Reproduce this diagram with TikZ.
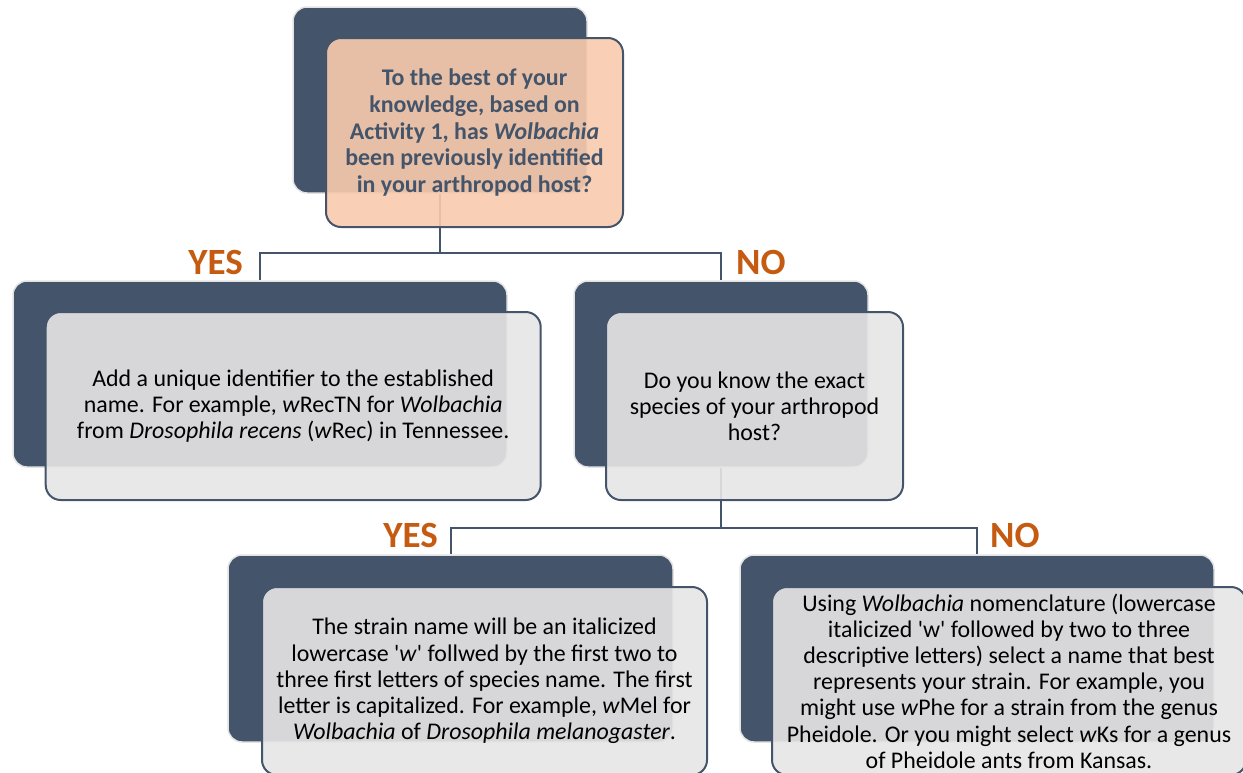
\documentclass[tikz,border=0pt]{standalone}
\usepackage{fontspec}
\setmainfont{Carlito}
\definecolor{slate}{HTML}{44546A}
\definecolor{haloc}{HTML}{E3E3E3}
\definecolor{peach}{HTML}{F8CBAD}
\definecolor{lightg}{HTML}{E7E6E6}
\definecolor{orangec}{HTML}{C55A11}
\pgfdeclarelayer{bg}
\pgfsetlayers{bg,main}
\tikzset{
  backbox/.style={rectangle, rounded corners=14pt, fill=slate, draw=haloc, line width=1.5pt, inner sep=0pt},
  frontbox/.style={rectangle, rounded corners=15pt, draw=slate, line width=2pt, inner sep=0pt, fill opacity=0.9},
  bodytext/.style={align=center, inner sep=0pt, text=black, font=\fontsize{23.9}{26.2}\selectfont},
  qtext/.style={align=center, inner sep=0pt, text=slate, font=\fontsize{23.9}{26.7}\selectfont\bfseries},
  lab/.style={inner sep=0pt, text=orangec, font=\fontsize{37}{40}\selectfont\bfseries},
  conn/.style={draw=slate, line width=2pt}
}
\newcommand{\sq}{\textquotesingle}
\begin{document}
\begin{tikzpicture}[x=1pt,y=-1pt]
\useasboundingbox (0,0) rectangle (1243,772);
\clip (0,0) rectangle (1243,772);
% back boxes
\node[backbox, minimum width=294pt, minimum height=186pt] (topB) at (440,100) {};
\node[backbox, minimum width=494pt, minimum height=186pt] (lmB) at (260,374) {};
\node[backbox, minimum width=294pt, minimum height=186pt] (rmB) at (721,374) {};
\node[backbox, minimum width=445pt, minimum height=187pt] (blB) at (450.5,648.5) {};
\node[backbox, minimum width=474pt, minimum height=187pt] (brB) at (977,648.5) {};
% front boxes
\node[frontbox, fill=peach, minimum width=297pt, minimum height=189pt] (topF) at (474.5,132.5) {};
\node[frontbox, fill=lightg, minimum width=495pt, minimum height=188pt] (lmF) at (293.2,406) {};
\node[frontbox, fill=lightg, minimum width=297pt, minimum height=188pt] (rmF) at (754.5,406) {};
\node[frontbox, fill=lightg, minimum width=445pt, minimum height=188pt] (blF) at (484.5,681) {};
\node[frontbox, fill=lightg, minimum width=474pt, minimum height=188pt] (brF) at (1009,681) {};
% texts
\node[qtext] (topT) at (topF.center) {To the best of your\\knowledge, based on\\Activity 1, has \textit{Wolbachia}\\been previously identified\\in your arthropod host?};
\node[bodytext] (lmT) at (lmF.center) {Add a unique identifier to the established\\name. For example, \textit{w}RecTN for \textit{Wolbachia}\\from \textit{Drosophila recens} (\textit{w}Rec) in Tennessee.};
\node[bodytext] (rmT) at (rmF.center) {Do you know the exact\\species of your arthropod\\host?};
\node[bodytext] (blT) at (blF.center) {The strain name will be an italicized\\lowercase \sq\textit{w}\sq{} follwed by the first two to\\three first letters of species name. The first\\letter is capitalized. For example, \textit{w}Mel for\\\textit{Wolbachia} of \textit{Drosophila melanogaster}.};
\node[bodytext] (brT) at (brF.center) {Using \textit{Wolbachia} nomenclature (lowercase\\italicized \sq w\sq{} followed by two to three\\descriptive letters) select a name that best\\represents your strain. For example, you\\might use \textit{w}Phe for a strain from the genus\\Pheidole. Or you might select \textit{w}Ks for a genus\\of Pheidole ants from Kansas.};
% labels
\node[lab, anchor=base east] (yes1) at (243,274) {YES};
\node[lab, anchor=base west] (no1) at (736,274) {NO};
\node[lab, anchor=base east] (yes2) at (438,547) {YES};
\node[lab, anchor=base west] (no2) at (990,547) {NO};
% junctions
\coordinate (j1) at (440,253);
\coordinate (j2) at (721,527.5);
\begin{pgfonlayer}{bg}
\draw[conn] (topB.center) -- (j1);
\draw[conn] (j1) -| (lmB.north);
\draw[conn] (j1) -| (rmB.north);
\draw[conn] (rmB.center) -- (j2);
\draw[conn] (j2) -| (blB.north);
\draw[conn] (j2) -| (brB.north);
\end{pgfonlayer}
\end{tikzpicture}
\end{document}
